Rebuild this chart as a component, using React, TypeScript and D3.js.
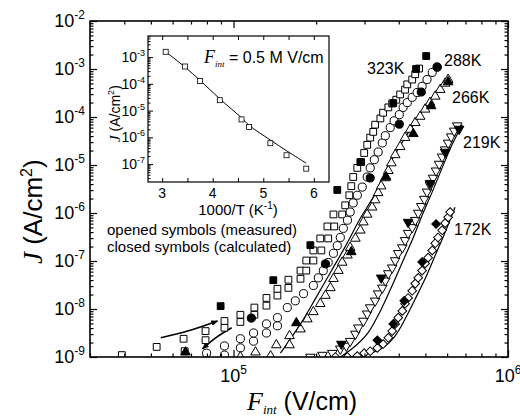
import React, { useEffect, useRef } from "react";
import * as d3 from "d3";

// main panel values are log10: F_int in V/cm, J in A/cm^2
const open323F = [4.593, 4.72, 4.818, 4.822, 4.898, 4.898, 4.967, 4.967, 5.025, 5.025, 5.076, 5.076, 5.12, 5.12, 5.16, 5.16, 5.2, 5.2, 5.244, 5.244, 5.265, 5.265, 5.291, 5.291, 5.32, 5.316, 5.345, 5.342, 5.367, 5.364, 5.396, 5.407, 5.422, 5.429, 5.436, 5.451, 5.465, 5.476, 5.487, 5.498, 5.509, 5.516, 5.535, 5.545, 5.564, 5.578, 5.593, 5.607, 5.625, 5.633, 5.651, 5.662, 5.676];
const open323J = [-8.96, -8.79, -8.62, -8.88, -8.65, -8.46, -8.39, -8.25, -8.27, -8.12, -8.12, -7.97, -7.93, -7.77, -7.72, -7.58, -7.56, -7.39, -7.37, -7.2, -7.2, -6.99, -6.99, -6.78, -6.78, -6.53, -6.53, -6.28, -6.28, -6.03, -6.03, -5.84, -5.63, -5.44, -5.25, -5.06, -4.94, -4.75, -4.58, -4.43, -4.31, -4.16, -4.03, -3.91, -3.8, -3.72, -3.64, -3.53, -3.43, -3.32, -3.22, -3.11, -2.99];
const calc323F = [4.953, 5.145, 5.28, 5.378, 5.462, 5.582, 5.665, 5.702];
const calc323J = [-7.94, -7.4, -6.67, -5.52, -4.94, -3.71, -3.0, -2.73];

const open288F = [4.902, 4.967, 4.967, 5.025, 5.025, 5.073, 5.073, 5.12, 5.12, 5.16, 5.16, 5.196, 5.225, 5.255, 5.291, 5.309, 5.327, 5.345, 5.364, 5.378, 5.389, 5.4, 5.415, 5.425, 5.436, 5.451, 5.469, 5.487, 5.498, 5.513, 5.527, 5.542, 5.553, 5.571, 5.585, 5.604, 5.618, 5.633, 5.651, 5.669, 5.687, 5.705, 5.724, 5.742];
const open288J = [-8.92, -8.96, -8.77, -8.81, -8.62, -8.67, -8.5, -8.5, -8.31, -8.35, -8.18, -7.97, -7.83, -7.68, -7.51, -7.35, -7.2, -7.03, -6.84, -6.68, -6.51, -6.32, -6.15, -5.98, -5.79, -5.63, -5.46, -5.25, -5.06, -4.89, -4.73, -4.54, -4.39, -4.22, -4.08, -3.95, -3.8, -3.7, -3.59, -3.49, -3.36, -3.22, -3.07, -2.96];
const calc288F = [5.065, 5.335, 5.498, 5.604, 5.684, 5.742];
const calc288J = [-8.19, -7.06, -5.27, -4.15, -3.48, -2.96];

const open266F = [5.025, 5.08, 5.135, 5.156, 5.204, 5.204, 5.244, 5.269, 5.291, 5.316, 5.335, 5.353, 5.364, 5.382, 5.396, 5.415, 5.425, 5.444, 5.462, 5.473, 5.487, 5.505, 5.516, 5.527, 5.538, 5.553, 5.564, 5.575, 5.589, 5.607, 5.625, 5.644, 5.662, 5.68, 5.698, 5.716, 5.735, 5.753, 5.771, 5.782];
const open266J = [-9.0, -8.9, -8.98, -8.75, -8.75, -8.56, -8.42, -8.21, -8.06, -7.89, -7.72, -7.56, -7.37, -7.2, -7.03, -6.88, -6.72, -6.53, -6.36, -6.19, -6.03, -5.88, -5.73, -5.58, -5.44, -5.27, -5.12, -4.96, -4.79, -4.62, -4.43, -4.26, -4.12, -3.99, -3.84, -3.7, -3.57, -3.43, -3.3, -3.22];
const calc266F = [4.825, 5.229, 5.429, 5.556, 5.655, 5.72, 5.782];
const calc266J = [-8.9, -8.29, -6.81, -5.25, -4.35, -3.77, -3.27];

const open219F = [5.28, 5.324, 5.36, 5.389, 5.411, 5.425, 5.444, 5.455, 5.473, 5.487, 5.498, 5.516, 5.527, 5.542, 5.553, 5.564, 5.578, 5.589, 5.6, 5.615, 5.625, 5.636, 5.651, 5.662, 5.673, 5.684, 5.695, 5.705, 5.716, 5.727, 5.738, 5.749, 5.76, 5.771, 5.782, 5.793, 5.804, 5.815];
const open219J = [-9.0, -8.96, -8.92, -8.83, -8.77, -8.67, -8.52, -8.39, -8.25, -8.1, -7.97, -7.83, -7.68, -7.56, -7.41, -7.26, -7.14, -6.99, -6.84, -6.72, -6.57, -6.42, -6.3, -6.15, -6.0, -5.86, -5.71, -5.56, -5.42, -5.27, -5.12, -4.98, -4.83, -4.68, -4.54, -4.41, -4.29, -4.18];
const calc219F = [5.393, 5.538, 5.636, 5.716, 5.771, 5.822];
const calc219J = [-8.73, -7.35, -6.19, -5.38, -4.73, -4.25];

const open172F = [5.371, 5.415, 5.451, 5.476, 5.498, 5.524, 5.545, 5.564, 5.578, 5.589, 5.6, 5.615, 5.625, 5.636, 5.651, 5.662, 5.673, 5.687, 5.698, 5.709, 5.724, 5.735, 5.745, 5.76, 5.771, 5.782, 5.789];
const open172J = [-9.0, -9.0, -8.98, -8.92, -8.88, -8.81, -8.73, -8.6, -8.46, -8.31, -8.18, -8.04, -7.89, -7.77, -7.62, -7.47, -7.35, -7.2, -7.05, -6.93, -6.78, -6.63, -6.51, -6.36, -6.21, -6.09, -5.98];
const calc172F = [5.524, 5.582, 5.622, 5.687, 5.738];
const calc172J = [-8.65, -8.31, -7.83, -7.02, -6.23];

// solid curves
const curveAF = [5.171, 5.244, 5.298, 5.353, 5.407, 5.462, 5.509, 5.553, 5.607, 5.662, 5.716, 5.789];
const curveAJ = [-8.92, -8.31, -7.79, -7.24, -6.7, -6.11, -5.67, -5.14, -4.6, -4.1, -3.64, -3.17];
const curveBF = [5.389, 5.444, 5.487, 5.535, 5.578, 5.618, 5.655, 5.687, 5.724, 5.76, 5.796, 5.833];
const curveBJ = [-9.0, -8.77, -8.52, -8.04, -7.51, -6.99, -6.51, -6.05, -5.56, -5.06, -4.58, -4.16];
const curveCF = [5.425, 5.498, 5.553, 5.589, 5.625, 5.662, 5.698, 5.735, 5.771, 5.807];
const curveCJ = [-9.0, -8.92, -8.77, -8.56, -8.21, -7.79, -7.37, -6.88, -6.4, -5.88];

// the two arrows at low field
const arrowUpF = [4.735, 4.833, 4.942];
const arrowUpJ = [-8.6, -8.46, -8.25];
const arrowDownF = [4.993, 4.935, 4.887];
const arrowDownJ = [-8.39, -8.6, -8.83];

const tempLabels = ["323K", "288K", "266K", "219K", "172K"];
const yTickExp = [-2, -3, -4, -5, -6, -7, -8, -9];
const xTickExp = [5, 6];

// inset: J at F_int = 0.5 MV/cm vs 1000/T (J as log10)
const insetInvT = [3.07, 3.45, 3.75, 4.14, 4.57, 4.72, 5.14, 5.46, 5.85];
const insetJ = [-2.8, -3.35, -3.89, -4.61, -5.33, -5.61, -6.22, -6.67, -7.17];
const insetFitJ = [-2.8, -3.37, -3.87, -4.56, -5.27, -5.55, -6.1, -6.5, -6.97];
const insetXTicks = [3, 4, 5, 6];
const insetYExp = [-3, -4, -5, -6, -7];

const sans = "'Liberation Sans', Arial, sans-serif";
const serif = "'Liberation Serif', 'Times New Roman', serif";

export default function App() {
  const svgRef = useRef<SVGSVGElement>(null);

  useEffect(() => {
    const svg = d3.select(svgRef.current);
    svg.selectAll("*").remove();

    const left = 90, right = 508, top = 21, bottom = 357;
    const x = d3.scaleLog().domain([3e4, 1e6]).range([left, right]);
    const y = d3.scaleLog().domain([1e-9, 1e-2]).range([bottom, top]);
    const X = (v: number) => x(10 ** v);
    const Y = (v: number) => y(10 ** v);

    svg.append("defs").append("clipPath").attr("id", "plot-clip")
      .append("rect").attr("x", left).attr("y", top)
      .attr("width", right - left).attr("height", bottom - top);
    svg.select("defs").append("marker")
      .attr("id", "arrowhead").attr("viewBox", "0 0 10 10")
      .attr("refX", 9).attr("refY", 5)
      .attr("markerWidth", 7).attr("markerHeight", 7)
      .attr("markerUnits", "userSpaceOnUse")
      .attr("orient", "auto")
      .append("path").attr("d", "M0,1 L10,5 L0,9 Z").attr("fill", "black");

    const plot = svg.append("g").attr("clip-path", "url(#plot-clip)");

    const line = d3.line<[number, number]>()
      .x((d) => X(d[0])).y((d) => Y(d[1]))
      .curve(d3.curveCatmullRom);
    const zip = (a: number[], b: number[]) => a.map((v, i) => [v, b[i]] as [number, number]);

    [[curveAF, curveAJ], [curveBF, curveBJ], [curveCF, curveCJ]].forEach(([f, j]) => {
      plot.append("path").attr("d", line(zip(f, j)))
        .attr("fill", "none").attr("stroke", "black").attr("stroke-width", 1.2);
    });
    [[arrowUpF, arrowUpJ], [arrowDownF, arrowDownJ]].forEach(([f, j]) => {
      plot.append("path").attr("d", line(zip(f, j)))
        .attr("fill", "none").attr("stroke", "black").attr("stroke-width", 1.6)
        .attr("marker-end", "url(#arrowhead)");
    });

    const square = d3.symbol().type(d3.symbolSquare).size(46)();
    const circle = d3.symbol().type(d3.symbolCircle).size(52)();
    const triangle = d3.symbol().type(d3.symbolTriangle).size(40)();
    const diamond = d3.symbol().type(d3.symbolSquare).size(38)();

    const series = [
      { f: open323F, j: open323J, shape: square, rot: 0, filled: false },
      { f: open288F, j: open288J, shape: circle, rot: 0, filled: false },
      { f: open266F, j: open266J, shape: triangle, rot: 0, filled: false },
      { f: open219F, j: open219J, shape: triangle, rot: 180, filled: false },
      { f: open172F, j: open172J, shape: diamond, rot: 45, filled: false },
      { f: calc323F, j: calc323J, shape: square, rot: 0, filled: true },
      { f: calc288F, j: calc288J, shape: circle, rot: 0, filled: true },
      { f: calc266F, j: calc266J, shape: triangle, rot: 0, filled: true },
      { f: calc219F, j: calc219J, shape: triangle, rot: 180, filled: true },
      { f: calc172F, j: calc172J, shape: diamond, rot: 45, filled: true },
    ];
    series.forEach((s) => {
      plot.append("g").selectAll("path")
        .data(zip(s.f, s.j))
        .enter().append("path")
        .attr("d", s.shape)
        .attr("transform", (d) => `translate(${X(d[0])},${Y(d[1])}) rotate(${s.rot})`)
        .attr("fill", s.filled ? "black" : "white")
        .attr("stroke", "black")
        .attr("stroke-width", 1);
    });

    // ticks on all four sides, pointing inward
    const xMajor = xTickExp.map((e) => 10 ** e);
    const xMinor = x.ticks().filter((t) => !xMajor.some((m) => Math.abs(t / m - 1) < 1e-6));
    const yMajor = yTickExp.map((e) => 10 ** e);
    const yMinor = y.ticks().filter((t) => !yMajor.some((m) => Math.abs(t / m - 1) < 1e-6));
    const addAxis = (axis: any, tx: number, ty: number) => {
      const g = svg.append("g").attr("transform", `translate(${tx},${ty})`).call(axis);
      g.select(".domain").remove();
      g.selectAll("line").attr("stroke", "black").attr("stroke-width", 1.2);
      g.selectAll("text").remove();
    };
    addAxis(d3.axisBottom(x).tickValues(xMinor).tickSize(-3.5).tickFormat(() => ""), 0, bottom);
    addAxis(d3.axisTop(x).tickValues(xMinor).tickSize(-3.5).tickFormat(() => ""), 0, top);
    addAxis(d3.axisBottom(x).tickValues(xMajor).tickSize(-7).tickFormat(() => ""), 0, bottom);
    addAxis(d3.axisTop(x).tickValues(xMajor).tickSize(-7).tickFormat(() => ""), 0, top);
    addAxis(d3.axisLeft(y).tickValues(yMinor).tickSize(-3.5).tickFormat(() => ""), left, 0);
    addAxis(d3.axisRight(y).tickValues(yMinor).tickSize(-3.5).tickFormat(() => ""), right, 0);
    addAxis(d3.axisLeft(y).tickValues(yMajor).tickSize(-7).tickFormat(() => ""), left, 0);
    addAxis(d3.axisRight(y).tickValues(yMajor).tickSize(-7).tickFormat(() => ""), right, 0);

    svg.append("rect").attr("x", left).attr("y", top)
      .attr("width", right - left).attr("height", bottom - top)
      .attr("fill", "none").attr("stroke", "black").attr("stroke-width", 1.6);

    // tick labels
    yTickExp.forEach((e) => {
      const t = svg.append("text").attr("x", 85).attr("y", y(10 ** e) + 6)
        .attr("text-anchor", "end").attr("font-family", sans).attr("font-size", 18);
      t.append("tspan").text("10");
      t.append("tspan").attr("font-size", 12).attr("dy", -8).text(String(e));
    });
    xTickExp.forEach((e) => {
      const t = svg.append("text").attr("x", x(10 ** e)).attr("y", 382)
        .attr("text-anchor", "middle").attr("font-family", sans).attr("font-size", 18);
      t.append("tspan").text("10");
      t.append("tspan").attr("font-size", 12).attr("dy", -8).text(String(e));
    });

    // axis titles
    const xt = svg.append("text").attr("x", 247).attr("y", 410);
    xt.append("tspan").attr("font-family", serif).attr("font-style", "italic").attr("font-size", 26).text("F");
    xt.append("tspan").attr("font-family", serif).attr("font-style", "italic").attr("font-size", 13).attr("dy", 4).text("int");
    xt.append("tspan").attr("font-family", sans).attr("font-size", 25).attr("dy", -4).text(" (V/cm)");

    const yt = svg.append("text").attr("transform", "translate(42,264) rotate(-90)");
    yt.append("tspan").attr("font-family", serif).attr("font-style", "italic").attr("font-size", 27).text("J");
    yt.append("tspan").attr("font-family", sans).attr("font-size", 26).text(" (A/cm");
    yt.append("tspan").attr("font-family", sans).attr("font-size", 16).attr("dy", -10).text("2");
    yt.append("tspan").attr("font-family", sans).attr("font-size", 26).attr("dy", 10).text(")");

    // temperature labels
    const labelPos: [number, number][] = [[367, 74], [444, 66], [452, 103], [463, 148], [454, 235]];
    tempLabels.forEach((s, i) => {
      svg.append("text").attr("x", labelPos[i][0]).attr("y", labelPos[i][1])
        .attr("font-family", sans).attr("font-size", 16).text(s);
    });

    svg.append("text").attr("x", 107).attr("y", 235)
      .attr("font-family", sans).attr("font-size", 15).text("opened symbols (measured)");
    svg.append("text").attr("x", 107).attr("y", 252)
      .attr("font-family", sans).attr("font-size", 15).text("closed symbols (calculated)");

    // inset
    const iL = 148, iR = 329, iT = 36, iB = 182;
    const ix = d3.scaleLinear().domain([2.72, 6.3]).range([iL, iR]);
    const iy = d3.scaleLog().domain([10 ** -7.67, 10 ** -2.21]).range([iB, iT]);
    const inset = svg.append("g");
    inset.append("rect").attr("x", iL).attr("y", iT).attr("width", iR - iL).attr("height", iB - iT)
      .attr("fill", "white");

    const ixMinor = d3.range(3, 6.5, 0.5);
    const iyMajor = insetYExp.map((e) => 10 ** e);
    const iyMinor = iy.ticks().filter((t) => !iyMajor.some((m) => Math.abs(t / m - 1) < 1e-6));
    const addInset = (axis: any, tx: number, ty: number) => {
      const g = inset.append("g").attr("transform", `translate(${tx},${ty})`).call(axis);
      g.select(".domain").remove();
      g.selectAll("line").attr("stroke", "black").attr("stroke-width", 1);
      g.selectAll("text").remove();
    };
    addInset(d3.axisBottom(ix).tickValues(ixMinor).tickSize(-4).tickFormat(() => ""), 0, iB);
    addInset(d3.axisTop(ix).tickValues(ixMinor).tickSize(-4).tickFormat(() => ""), 0, iT);
    addInset(d3.axisLeft(iy).tickValues(iyMinor).tickSize(-2.5).tickFormat(() => ""), iL, 0);
    addInset(d3.axisLeft(iy).tickValues(iyMajor).tickSize(-5).tickFormat(() => ""), iL, 0);
    inset.append("rect").attr("x", iL).attr("y", iT).attr("width", iR - iL).attr("height", iB - iT)
      .attr("fill", "none").attr("stroke", "black").attr("stroke-width", 1.2);

    const iline = d3.line<[number, number]>()
      .x((d) => ix(d[0])).y((d) => iy(10 ** d[1]))
      .curve(d3.curveCatmullRom);
    inset.append("path").attr("d", iline(zip(insetInvT, insetFitJ)))
      .attr("fill", "none").attr("stroke", "black").attr("stroke-width", 1);
    inset.append("g").selectAll("rect")
      .data(zip(insetInvT, insetJ))
      .enter().append("rect")
      .attr("x", (d) => ix(d[0]) - 2.5).attr("y", (d) => iy(10 ** d[1]) - 2.5)
      .attr("width", 5).attr("height", 5)
      .attr("fill", "white").attr("stroke", "black").attr("stroke-width", 0.8);

    insetXTicks.forEach((v) => {
      inset.append("text").attr("x", ix(v)).attr("y", 198).attr("text-anchor", "middle")
        .attr("font-family", sans).attr("font-size", 14).text(String(v));
    });
    insetYExp.forEach((e) => {
      const t = inset.append("text").attr("x", 145).attr("y", iy(10 ** e) + 5)
        .attr("text-anchor", "end").attr("font-family", sans).attr("font-size", 14);
      t.append("tspan").text("10");
      t.append("tspan").attr("font-size", 9).attr("dy", -6).text(String(e));
    });
    const ixt = inset.append("text").attr("x", 238).attr("y", 215).attr("text-anchor", "middle")
      .attr("font-family", sans).attr("font-size", 15);
    ixt.append("tspan").text("1000/T (K");
    ixt.append("tspan").attr("font-size", 10).attr("dy", -6).text("-1");
    ixt.append("tspan").attr("dy", 6).text(")");

    const iyt = inset.append("text").attr("transform", "translate(120,142) rotate(-90)");
    iyt.append("tspan").attr("font-family", serif).attr("font-style", "italic").attr("font-size", 15).text("J");
    iyt.append("tspan").attr("font-family", sans).attr("font-size", 14).text(" (A/cm");
    iyt.append("tspan").attr("font-family", sans).attr("font-size", 9).attr("dy", -6).text("2");
    iyt.append("tspan").attr("font-family", sans).attr("font-size", 14).attr("dy", 6).text(")");

    const ft = inset.append("text").attr("x", 204).attr("y", 63);
    ft.append("tspan").attr("font-family", serif).attr("font-style", "italic").attr("font-size", 18).text("F");
    ft.append("tspan").attr("font-family", serif).attr("font-style", "italic").attr("font-size", 9).attr("dy", 4).text("int");
    ft.append("tspan").attr("font-family", sans).attr("font-size", 16).attr("dy", -4).text(" = 0.5 M V/cm");
  }, []);

  return (
    <svg ref={svgRef} width={520} height={420}
      style={{ position: "absolute", left: 0, top: 0, background: "white" }} />
  );
}
